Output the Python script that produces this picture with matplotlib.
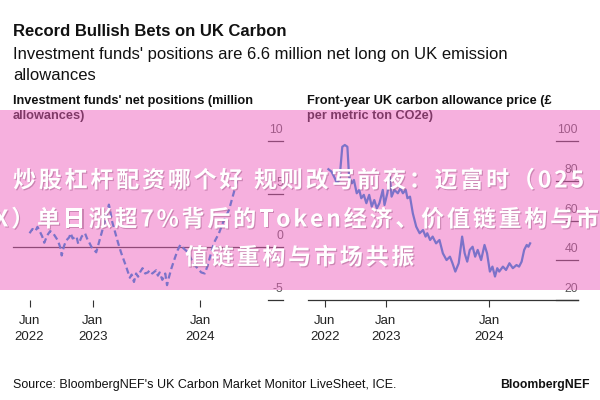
import matplotlib
matplotlib.use("Agg")
import matplotlib.pyplot as plt
import matplotlib.patheffects as pe
import pandas as pd
from matplotlib.patches import Rectangle
from matplotlib.font_manager import FontProperties
from matplotlib.textpath import TextToPath
from matplotlib.transforms import blended_transform_factory

plt.rcParams["font.family"] = ["Liberation Sans", "DejaVu Sans"]

# ── Data ─────────────────────────────────────────────────────────────────────
pos_dates = [
    "2022-06-01", "2022-06-11", "2022-06-21", "2022-06-28", "2022-07-07", "2022-07-14",
    "2022-07-21", "2022-07-31", "2022-08-10", "2022-08-20", "2022-08-27", "2022-09-03",
    "2022-09-09", "2022-09-15", "2022-09-18", "2022-09-26", "2022-10-03", "2022-10-13",
    "2022-10-19", "2022-10-25", "2022-11-07", "2022-11-13", "2022-11-19", "2022-11-25",
    "2022-12-06", "2022-12-13", "2022-12-19", "2022-12-28", "2023-01-04", "2023-01-13",
    "2023-01-19", "2023-01-25", "2023-02-01", "2023-02-11", "2023-02-19", "2023-02-25",
    "2023-03-01", "2023-03-07", "2023-03-19", "2023-03-28", "2023-04-07", "2023-04-16",
    "2023-04-25", "2023-05-01", "2023-05-07", "2023-05-13", "2023-05-21", "2023-05-28",
    "2023-06-04", "2023-06-10", "2023-06-19", "2023-06-28", "2023-07-07", "2023-07-13",
    "2023-07-22", "2023-08-04", "2023-08-10", "2023-08-16", "2023-08-25", "2023-09-04",
    "2023-09-10", "2023-09-16", "2023-09-25", "2023-10-07", "2023-10-16", "2023-10-25",
    "2023-11-04", "2023-11-16", "2023-11-25", "2023-12-07", "2023-12-22", "2024-01-04",
    "2024-01-16", "2024-01-25", "2024-02-04", "2024-02-16", "2024-03-04", "2024-03-19",
    "2024-04-07", "2024-04-16", "2024-04-28", "2024-05-07",
]
pos_values = [
    1.3, 1.7, 1.5, 1.9, 1.4, 1.0, 0.4, 1.1, 1.5, 1.3, 1.0, 0.7,
    0.3, -0.2, -0.8, 0.1, 0.6, 0.9, 1.3, 0.8, 1.0, 0.3, 0.6, 1.0,
    1.3, 0.8, 0.5, 0.0, -0.2, -0.5, 0.1, 0.7, 1.4, 2.4, 3.3, 4.0,
    3.5, 2.5, 1.3, 0.4, -0.5, -1.2, -1.9, -2.4, -2.9, -2.6, -3.3, -2.5,
    -2.8, -2.4, -2.0, -2.5, -2.4, -2.2, -2.5, -2.2, -2.7, -2.4, -3.1, -2.5,
    -3.6, -2.9, -2.0, -1.0, -0.3, 0.2, -0.1, -0.4, -0.8, -1.5, -2.0, -2.4,
    -2.5, -1.8, -0.8, 0.4, 1.3, 2.4, 3.5, 4.4, 5.6, 6.6,
]

price_dates = [
    "2022-06-13", "2022-06-24", "2022-07-06", "2022-07-13", "2022-07-22", "2022-08-01",
    "2022-08-10", "2022-08-19", "2022-08-25", "2022-09-04", "2022-09-11", "2022-09-21",
    "2022-09-30", "2022-10-07", "2022-10-16", "2022-10-25", "2022-11-04", "2022-11-13",
    "2022-11-22", "2022-12-01", "2022-12-10", "2022-12-22", "2022-12-28", "2023-01-07",
    "2023-01-16", "2023-01-22", "2023-02-01", "2023-02-13", "2023-02-22", "2023-03-03",
    "2023-03-13", "2023-03-19", "2023-03-28", "2023-04-07", "2023-04-19", "2023-05-01",
    "2023-05-13", "2023-05-22", "2023-05-28", "2023-06-07", "2023-06-16", "2023-06-28",
    "2023-07-10", "2023-07-22", "2023-08-04", "2023-08-16", "2023-08-25", "2023-09-04",
    "2023-09-16", "2023-09-28", "2023-10-07", "2023-10-16", "2023-10-25", "2023-11-04",
    "2023-11-13", "2023-11-22", "2023-12-04", "2023-12-16", "2023-12-25", "2024-01-04",
    "2024-01-13", "2024-01-22", "2024-01-30", "2024-02-06", "2024-02-19", "2024-03-01",
    "2024-03-13", "2024-03-25", "2024-04-07", "2024-04-16", "2024-04-25", "2024-05-04",
    "2024-05-13", "2024-05-19", "2024-05-25",
]
price_values = [
    85.8, 84.6, 81.2, 78.7, 80.4, 97.1, 98.0, 97.1, 82.0, 78.7, 80.4, 73.7,
    75.4, 71.2, 72.9, 68.7, 72.9, 67.0, 70.3, 66.1, 68.7, 75.4, 67.8, 73.7,
    82.0, 72.0, 75.4, 73.7, 76.2, 73.7, 75.4, 71.2, 72.0, 63.6, 56.9, 53.6,
    55.2, 51.9, 53.6, 50.2, 51.9, 48.5, 50.2, 43.5, 40.1, 41.8, 38.5, 34.3,
    38.5, 51.9, 43.5, 39.3, 45.2, 46.8, 41.8, 45.2, 40.1, 47.7, 43.5, 34.3,
    36.8, 31.8, 36.0, 34.3, 36.8, 35.1, 38.5, 36.0, 37.6, 36.8, 39.3, 45.2,
    47.7, 46.8, 48.5,
]

pos_ticks = [10, 5, 0, -5]
price_ticks = [100, 80, 60, 40, 20]
x_tick_dates = ["2022-06-01", "2023-01-01", "2024-01-01"]
x_tick_labels = ["Jun\n2022", "Jan\n2023", "Jan\n2024"]

banner_lines = [
    "炒股杠杆配资哪个好 规则改写前夜：迈富时（025",
    "X）单日涨超7%背后的Token经济、价值链重构与市场",
    "值链重构与市场共振",
]

# ── Figure (pixel helpers) ───────────────────────────────────────────────────
W, H = 600, 400
fig = plt.figure(figsize=(6, 4), dpi=100, facecolor="white")
fx = lambda x: x / W
fy = lambda y: 1 - y / H

LINE = "#0a84d6"
GRID = "#333333"
TICKLBL = "#555555"


def style_panel(ax, ticks, xlim, grid_from, full_zero=None, spine=False):
    ax.set_xlim(pd.to_datetime(xlim[0]), pd.to_datetime(xlim[1]))
    ax.set_ylim(ticks[-1], ticks[0])
    for s in ax.spines.values():
        s.set_visible(False)
    if spine:
        ax.spines["bottom"].set_visible(True)
        ax.spines["bottom"].set_color(GRID)
        ax.spines["bottom"].set_linewidth(0.9)
    ax.set_yticks([])
    ax.set_xticks(pd.to_datetime(x_tick_dates))
    ax.set_xticklabels(x_tick_labels, fontsize=9.5, color="#222222", linespacing=1.4)
    ax.tick_params(axis="x", length=5, width=0.8, color=GRID, pad=6)
    ax.patch.set_alpha(0)
    tr = blended_transform_factory(ax.transAxes, ax.transData)
    for t in ticks:
        x0 = 0 if t == full_zero else grid_from
        ax.plot([x0, 1], [t, t], transform=tr, color=GRID, lw=0.9,
                clip_on=False, zorder=1)
        ax.annotate(str(t), xy=(1, t), xycoords=tr, xytext=(0, 3.5),
                    textcoords="offset points", ha="right", va="bottom",
                    fontsize=8.8, color=TICKLBL)


# Left: fund positions
ax1 = fig.add_axes([fx(13), fy(300), 270 / W, 159 / H])
style_panel(ax1, pos_ticks, ("2022-04-06", "2024-10-07"), 0.944, full_zero=0)
ax1.plot(pd.to_datetime(pos_dates), pos_values, color=LINE, lw=1.6,
         linestyle=(0, (2.8, 1.6)), zorder=3)

# Right: carbon price
ax2 = fig.add_axes([fx(308), fy(300), 270 / W, 159 / H])
style_panel(ax2, price_ticks, ("2022-04-02", "2024-11-10"), 0.92, spine=True)
ax2.plot(pd.to_datetime(price_dates), price_values, color=LINE, lw=1.6, zorder=3)

# ── Header texts ─────────────────────────────────────────────────────────────
fig.text(fx(13), fy(31.5), "Record Bullish Bets on UK Carbon", fontsize=12,
         fontweight="bold", color="#111111", va="center")
fig.text(fx(13), fy(54.5), "Investment funds' positions are 6.6 million net long on UK emission",
         fontsize=12, color="#111111", va="center")
fig.text(fx(13), fy(75.5), "allowances", fontsize=12, color="#111111", va="center")

fig.text(fx(13), fy(101.5), "Investment funds' net positions (million", fontsize=9.2,
         fontweight="bold", color="#111111", va="center")
fig.text(fx(13), fy(115.5), "allowances)", fontsize=9.2, fontweight="bold",
         color="#111111", va="center")
fig.text(fx(307), fy(101.5), "Front-year UK carbon allowance price (£", fontsize=9.2,
         fontweight="bold", color="#111111", va="center")
fig.text(fx(307), fy(115.5), "per metric ton CO2e)", fontsize=9.2, fontweight="bold",
         color="#111111", va="center")

fig.text(fx(13), fy(385), "Source: BloombergNEF's UK Carbon Market Monitor LiveSheet, ICE.",
         fontsize=9, color="#111111", va="center")
fig.text(fx(590), fy(385), "BloombergNEF", fontsize=8.8, fontweight="bold",
         color="#111111", va="center", ha="right")

# ── Pink overlay band with white CJK text ───────────────────────────────────
fig.add_artist(Rectangle((0, fy(290)), 1, 180 / H, transform=fig.transFigure,
                         facecolor=(238 / 255, 98 / 255, 190 / 255), alpha=0.5,
                         edgecolor="none", zorder=10))

banner_fp = FontProperties(family="Noto Sans CJK SC", weight="bold", size=23 * 72 / 100)
shadow = [pe.SimplePatchShadow(offset=(0.8, -0.8), shadow_rgbFace="#9a5080", alpha=0.45),
          pe.Normal()]
t2p = TextToPath()


def banner_line(s, x, y):
    for ch in s:
        fig.text(fx(x), fy(y), ch, fontproperties=banner_fp, color="white",
                 ha="left", va="center", zorder=11, path_effects=shadow)
        if ord(ch) >= 0x2E80:
            adv = 23
        elif ch == " ":
            adv = 6
        else:
            w, _, _ = t2p.get_text_width_height_descent(ch, banner_fp, ismath=False)
            adv = w * 100 / 72
        x += adv + 2.8


banner_line(banner_lines[0], 13, 181)
banner_line(banner_lines[1], -6, 220)
banner_line(banner_lines[2], 185, 258)

fig.savefig("out.png", dpi=100, facecolor="white")
